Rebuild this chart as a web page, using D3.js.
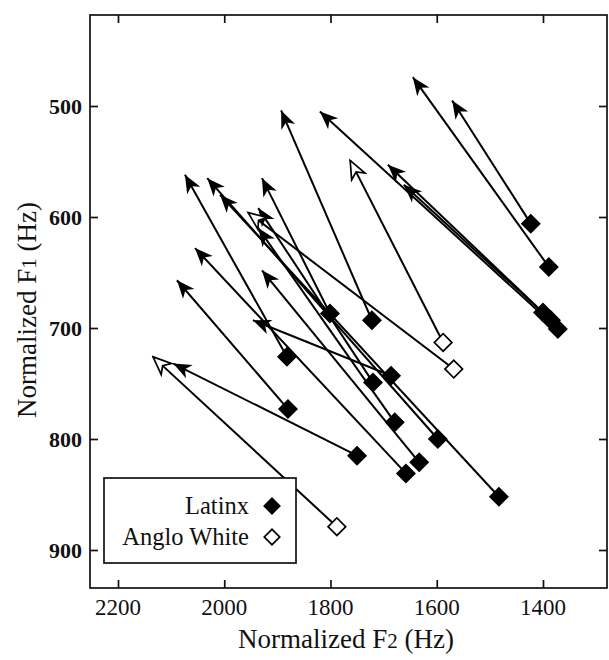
<!DOCTYPE html>
<html>
<head>
<meta charset="utf-8">
<script src="https://cdn.jsdelivr.net/npm/d3@7/dist/d3.min.js"></script>
<style>
  html, body { margin: 0; padding: 0; background: #fff; }
  svg { display: block; }
  text { font-family: "Liberation Serif", "DejaVu Serif", serif; fill: #111; }
</style>
</head>
<body>
<svg id="chart" width="609" height="660"></svg>
<script>
// ---- Data (Normalized F2 / F1 in Hz): start = diamond, end = arrow tip ----
const latinxF2Start = [1389, 1423, 1372, 1400, 1385, 1722, 1801, 1882, 1880, 1750, 1686, 1658, 1598, 1483, 1720, 1679, 1633];
const latinxF1Start = [645, 606, 701, 686, 693, 693, 687, 726, 773, 815, 743, 831, 800, 852, 749, 785, 821];
const latinxF2End   = [1645, 1571, 1820, 1692, 1662, 1893, 1929, 2074, 2089, 2096, 1946, 2055, 2032, 2008, 1936, 1936, 1929];
const latinxF1End   = [474, 495, 505, 553, 571, 504, 565, 562, 657, 732, 693, 628, 565, 580, 592, 610, 648];

const angloF2Start = [1588, 1568, 1788];
const angloF1Start = [713, 737, 879];
const angloF2End   = [1763, 1955, 2134];
const angloF1End   = [549, 596, 726];

const xTicks = [2200, 2000, 1800, 1600, 1400];
const yTicks = [500, 600, 700, 800, 900];
const legendLabels = ["Latinx", "Anglo White"];

// ---- Layout ----
const svg = d3.select("#chart");
const frame = { left: 90, top: 15, right: 607, bottom: 588 };

const x = d3.scaleLinear().domain([2200, 1400]).range([118, 543]);
const y = d3.scaleLinear().domain([500, 900]).range([106, 550]);

const latinx = latinxF2Start.map((d, i) => ({
  x0: latinxF2Start[i], y0: latinxF1Start[i], x1: latinxF2End[i], y1: latinxF1End[i], g: "L"
}));
const anglo = angloF2Start.map((d, i) => ({
  x0: angloF2Start[i], y0: angloF1Start[i], x1: angloF2End[i], y1: angloF1End[i], g: "A"
}));
const all = latinx.concat(anglo);

// ---- Markers ----
const defs = svg.append("defs");
const arrowPath = "M0,0 L-18,-7.5 L-13,0 L-18,7.5 Z";
defs.append("marker")
  .attr("id", "headFilled").attr("markerUnits", "userSpaceOnUse")
  .attr("viewBox", "-20 -10 22 20").attr("refX", 0).attr("refY", 0)
  .attr("markerWidth", 22).attr("markerHeight", 20).attr("orient", "auto")
  .append("path").attr("d", arrowPath).attr("fill", "#000");
defs.append("marker")
  .attr("id", "headHollow").attr("markerUnits", "userSpaceOnUse")
  .attr("viewBox", "-20 -10 22 20").attr("refX", 0).attr("refY", 0)
  .attr("markerWidth", 22).attr("markerHeight", 20).attr("orient", "auto")
  .append("path").attr("d", arrowPath).attr("fill", "#fff")
  .attr("stroke", "#000").attr("stroke-width", 1.7).attr("stroke-linejoin", "miter");

// ---- Frame ----
svg.append("rect")
  .attr("x", frame.left).attr("y", frame.top)
  .attr("width", frame.right - frame.left).attr("height", frame.bottom - frame.top)
  .attr("fill", "none").attr("stroke", "#111").attr("stroke-width", 1.7);

// ---- Axes (ticks inside, mirrored) ----
const tl = 8;
const axB = svg.append("g").attr("transform", `translate(0,${frame.bottom})`)
  .call(d3.axisTop(x).tickValues(xTicks).tickSize(tl).tickFormat(""));
const axT = svg.append("g").attr("transform", `translate(0,${frame.top})`)
  .call(d3.axisBottom(x).tickValues(xTicks).tickSize(tl).tickFormat(""));
const axL = svg.append("g").attr("transform", `translate(${frame.left},0)`)
  .call(d3.axisRight(y).tickValues(yTicks).tickSize(tl).tickFormat(""));
const axR = svg.append("g").attr("transform", `translate(${frame.right},0)`)
  .call(d3.axisLeft(y).tickValues(yTicks).tickSize(tl).tickFormat(""));
[axB, axT, axL, axR].forEach(a => {
  a.select(".domain").remove();
  a.selectAll("line").attr("stroke", "#111").attr("stroke-width", 1.7);
});

// tick labels
svg.append("g").selectAll("text").data(xTicks).join("text")
  .attr("x", d => x(d)).attr("y", 615)
  .attr("text-anchor", "middle").attr("font-size", 23)
  .text(d => d);
svg.append("g").selectAll("text").data(yTicks).join("text")
  .attr("x", 82).attr("y", d => y(d) + 7.5)
  .attr("text-anchor", "end").attr("font-size", 22).attr("font-weight", "bold")
  .text(d => d);

// axis titles
const xt = svg.append("text").attr("x", 346).attr("y", 648)
  .attr("text-anchor", "middle").attr("font-size", 27);
xt.append("tspan").text("Normalized F");
xt.append("tspan").attr("font-size", 21).text("2");
xt.append("tspan").text(" (Hz)");

const yt = svg.append("text")
  .attr("transform", "translate(36,310) rotate(-90)")
  .attr("text-anchor", "middle").attr("font-size", 27);
yt.append("tspan").text("Normalized F");
yt.append("tspan").attr("font-size", 21).text("1");
yt.append("tspan").text(" (Hz)");

// ---- Arrows ----
const plot = svg.append("g");
plot.selectAll("line.arrow").data(all).join("line")
  .attr("class", "arrow")
  .attr("x1", d => x(d.x0)).attr("y1", d => y(d.y0))
  .attr("x2", d => x(d.x1)).attr("y2", d => y(d.y1))
  .attr("stroke", "#000").attr("stroke-width", 2)
  .attr("marker-end", d => d.g === "L" ? "url(#headFilled)" : "url(#headHollow)");

// ---- Diamonds ----
const diamond = d3.symbol(d3.symbolSquare, 155);
plot.selectAll("path.pt").data(all).join("path")
  .attr("class", "pt")
  .attr("d", diamond)
  .attr("transform", d => `translate(${x(d.x0)},${y(d.y0)}) rotate(45)`)
  .attr("fill", d => d.g === "L" ? "#000" : "#fff")
  .attr("stroke", "#000").attr("stroke-width", 1.7);

// ---- Legend ----
const lg = svg.append("g");
lg.append("rect").attr("x", 104).attr("y", 478).attr("width", 192).attr("height", 85)
  .attr("fill", "#fff").attr("stroke", "#111").attr("stroke-width", 1.7);
const legendY = [514, 545];
lg.selectAll("text").data(legendLabels).join("text")
  .attr("x", 249).attr("y", (d, i) => legendY[i])
  .attr("text-anchor", "end").attr("font-size", 24.5)
  .text(d => d);
lg.selectAll("path").data(legendLabels).join("path")
  .attr("d", d3.symbol(d3.symbolSquare, 120))
  .attr("transform", (d, i) => `translate(272,${legendY[i] - 8}) rotate(45)`)
  .attr("fill", (d, i) => i === 0 ? "#000" : "#fff")
  .attr("stroke", "#000").attr("stroke-width", 1.7);
</script>
</body>
</html>
